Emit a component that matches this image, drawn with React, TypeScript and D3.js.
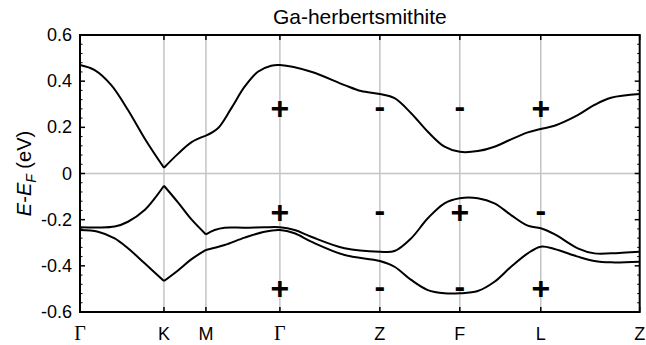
import * as d3 from 'd3';

// high-symmetry path (k distance, arbitrary units)
const kLabels = ['Γ', 'K', 'M', 'Γ', 'Z', 'F', 'L', 'Z'];
const kPoints = [0, 0.84, 1.26, 2.0, 3.0, 3.8, 4.61, 5.6];
const yTicks = [-0.6, -0.4, -0.2, 0, 0.2, 0.4, 0.6];
// bands have cusps at K and M; elsewhere they are smooth
const kBreaks = [0, 0.84, 1.26, 5.6];

const band1: [number, number][] = [
  [0, 0.47], [0.147, 0.448], [0.313, 0.383], [0.48, 0.275], [0.647, 0.152], [0.84, 0.025],
  [0.98, 0.085], [1.113, 0.135], [1.26, 0.164],
  [1.38, 0.196], [1.513, 0.282], [1.647, 0.376], [1.78, 0.441], [1.913, 0.467], [2.0, 0.47],
  [2.313, 0.441], [2.647, 0.383], [2.813, 0.357], [3.0, 0.344],
  [3.147, 0.326], [3.313, 0.261], [3.48, 0.181], [3.647, 0.116], [3.8, 0.094],
  [3.98, 0.097], [4.147, 0.116], [4.313, 0.148], [4.48, 0.178], [4.61, 0.193],
  [4.747, 0.207], [4.98, 0.253], [5.147, 0.297], [5.313, 0.328], [5.6, 0.344],
];

const band2: [number, number][] = [
  [0, -0.233], [0.18, -0.234], [0.347, -0.23], [0.48, -0.209], [0.647, -0.158], [0.747, -0.108], [0.84, -0.053],
  [0.98, -0.125], [1.113, -0.198], [1.26, -0.264],
  [1.347, -0.245], [1.447, -0.235], [1.647, -0.235], [1.847, -0.233], [2.0, -0.233],
  [2.147, -0.245], [2.313, -0.274], [2.647, -0.324], [3.0, -0.339],
  [3.147, -0.336], [3.313, -0.281], [3.48, -0.194], [3.647, -0.129], [3.8, -0.107],
  [3.98, -0.107], [4.147, -0.129], [4.313, -0.18], [4.48, -0.226], [4.61, -0.237],
  [4.747, -0.263], [4.98, -0.324], [5.147, -0.346], [5.313, -0.346], [5.6, -0.339],
];

const band3: [number, number][] = [
  [0, -0.245], [0.18, -0.252], [0.347, -0.281], [0.48, -0.324], [0.647, -0.389], [0.84, -0.466],
  [0.98, -0.42], [1.113, -0.372], [1.26, -0.331],
  [1.447, -0.31], [1.647, -0.278], [1.847, -0.252], [2.0, -0.245],
  [2.147, -0.259], [2.313, -0.295], [2.647, -0.353], [3.0, -0.379],
  [3.147, -0.404], [3.313, -0.461], [3.48, -0.505], [3.647, -0.519], [3.8, -0.519],
  [3.98, -0.509], [4.147, -0.469], [4.313, -0.404], [4.48, -0.346], [4.61, -0.317],
  [4.747, -0.327], [4.98, -0.36], [5.147, -0.379], [5.313, -0.385], [5.6, -0.382],
];

// parity labels at Γ, Z, F, L
const parityK = [2.0, 3.0, 3.8, 4.61];
const parityE = [0.283, -0.165, -0.497];
const parityRows = [
  ['+', '-', '-', '+'],
  ['+', '-', '+', '-'],
  ['+', '-', '-', '+'],
];

const W = 646;
const H = 345;
const margin = { top: 35, right: 6.3, bottom: 33, left: 80 };

export default function App() {
  const x = d3.scaleLinear().domain([0, 5.6]).range([margin.left, W - margin.right]);
  const y = d3.scaleLinear().domain([-0.6, 0.6]).range([H - margin.bottom, margin.top]);
  const line = d3.line<[number, number]>()
    .x((d) => x(d[0]))
    .y((d) => y(d[1]))
    .curve(d3.curveCatmullRom.alpha(0.5));

  const segments = (band: [number, number][]) =>
    kBreaks.slice(0, -1).map((a, i) => {
      const b = kBreaks[i + 1];
      return band.filter((d) => d[0] >= a - 1e-6 && d[0] <= b + 1e-6);
    });

  const minor = d3.range(-0.6, 0.6001, 0.04).filter((v) => Math.abs(Math.round(v * 5) - v * 5) > 1e-6);
  const [x0, x1] = x.range();
  const [yb, yt] = y.range();

  return (
    <svg width={W} height={H} style={{ position: 'absolute', left: 0, top: 0, background: '#fff' }}
      fontFamily="'Liberation Sans', Arial, sans-serif">
      <text x={(x0 + x1) / 2} y={24} textAnchor="middle" fontSize={21}>Ga-herbertsmithite</text>

      {/* grid */}
      {kPoints.slice(1, -1).map((k, i) => (
        <line key={'g' + i} x1={x(k)} x2={x(k)} y1={yt} y2={yb} stroke="#c4c4c4" strokeWidth={1.5} />
      ))}
      <line x1={x0} x2={x1} y1={y(0)} y2={y(0)} stroke="#c4c4c4" strokeWidth={1.5} />

      {/* bands */}
      {[band1, band2, band3].map((band, bi) =>
        segments(band).map((seg, si) => (
          <path key={bi + '-' + si} d={line(seg) || ''} fill="none" stroke="#000" strokeWidth={2} strokeLinejoin="round" />
        ))
      )}

      {/* parity signs */}
      {parityRows.map((row, ri) =>
        row.map((s, ci) => (
          <text key={ri + '-' + ci} x={x(parityK[ci])} y={y(parityE[ri]) + (s === '+' ? 11 : 9)}
            textAnchor="middle" fontSize={32} fontWeight="bold">{s}</text>
        ))
      )}

      {/* frame */}
      <rect x={x0} y={yt} width={x1 - x0} height={yb - yt} fill="none" stroke="#000" strokeWidth={2} />

      {/* y ticks */}
      {yTicks.map((t) => (
        <g key={'yt' + t}>
          <line x1={x0} x2={x0 + 5} y1={y(t)} y2={y(t)} stroke="#000" strokeWidth={1.5} />
          <line x1={x1} x2={x1 - 5} y1={y(t)} y2={y(t)} stroke="#000" strokeWidth={1.5} />
          <text x={x0 - 8} y={y(t) + 6} textAnchor="end" fontSize={18}>{t === 0 ? '0' : t.toFixed(1)}</text>
        </g>
      ))}
      {minor.map((t, i) => (
        <g key={'ym' + i}>
          <line x1={x0} x2={x0 + 2.5} y1={y(t)} y2={y(t)} stroke="#000" strokeWidth={1} />
          <line x1={x1} x2={x1 - 2.5} y1={y(t)} y2={y(t)} stroke="#000" strokeWidth={1} />
        </g>
      ))}

      {/* x ticks */}
      {kPoints.map((k, i) => (
        <g key={'xt' + i}>
          <line x1={x(k)} x2={x(k)} y1={yb} y2={yb - 5} stroke="#000" strokeWidth={1.5} />
          <line x1={x(k)} x2={x(k)} y1={yt} y2={yt + 5} stroke="#000" strokeWidth={1.5} />
          <text x={x(k)} y={yb + 28} textAnchor="middle"
            fontSize={kLabels[i] === 'Γ' ? 20 : 18}
            fontFamily={kLabels[i] === 'Γ' ? "'Liberation Serif', 'Times New Roman', serif" : undefined}>
            {kLabels[i]}
          </text>
        </g>
      ))}

      {/* y label */}
      <text transform={`translate(31,${y(0)}) rotate(-90)`} textAnchor="middle" fontSize={20}>
        <tspan fontStyle="italic">E</tspan>-<tspan fontStyle="italic">E</tspan>
        <tspan fontStyle="italic" fontSize={14} dy={5}>F</tspan>
        <tspan dy={-5}> (eV)</tspan>
      </text>
    </svg>
  );
}
